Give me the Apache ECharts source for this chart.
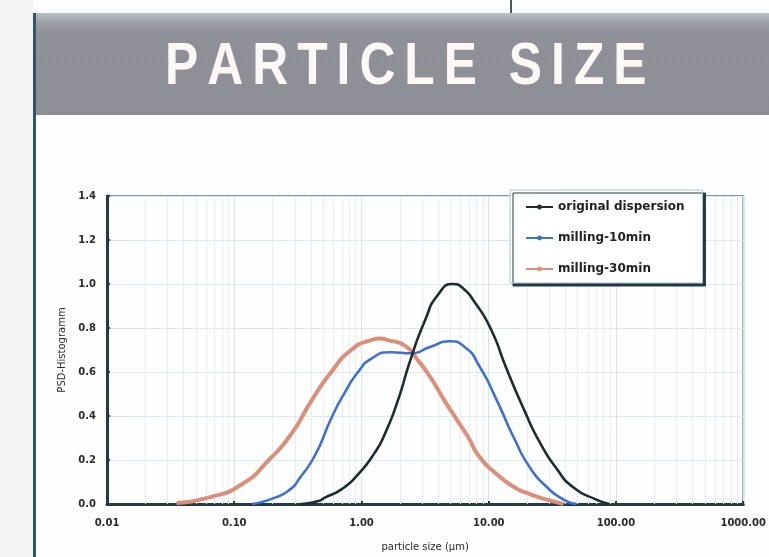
<!DOCTYPE html>
<html>
<head>
<meta charset="utf-8">
<script src="https://cdn.jsdelivr.net/npm/echarts@6/dist/echarts.min.js"></script>
<style>
html,body{margin:0;padding:0;background:#fdfdfd;}
#chart{width:769px;height:557px;}
</style>
</head>
<body>
<div id="chart"></div>
<script>
// ---- data ----
const titleText = 'PARTICLE SIZE';
const seriesNames = ['original dispersion', 'milling-10min', 'milling-30min'];

const originalSize = [0.33, 0.45, 0.52, 0.71, 0.94, 1.26, 1.53, 1.93, 2.44, 3.16, 3.98, 5.25, 6.3, 7.69, 10.3, 13.9, 18.9, 25.2, 34.2, 46.4, 70.1, 88.5];
const originalVal  = [0.0, 0.012, 0.03, 0.07, 0.135, 0.23, 0.32, 0.47, 0.66, 0.835, 0.95, 1.0, 0.98, 0.92, 0.80, 0.61, 0.43, 0.28, 0.16, 0.075, 0.02, 0.0];

const mill10Size = [0.138, 0.212, 0.28, 0.32, 0.434, 0.579, 0.745, 0.94, 1.19, 1.70, 2.44, 3.49, 4.91, 6.43, 8.57, 11.6, 15.8, 21.0, 28.6, 38.7, 49.0];
const mill10Val  = [0.0, 0.03, 0.07, 0.11, 0.225, 0.39, 0.51, 0.60, 0.66, 0.69, 0.685, 0.715, 0.74, 0.715, 0.62, 0.47, 0.30, 0.167, 0.077, 0.02, 0.0];

const mill30Size = [0.0352, 0.0635, 0.115, 0.187, 0.282, 0.405, 0.579, 0.83, 1.19, 1.38, 1.61, 2.19, 2.76, 3.49, 4.49, 5.66, 6.79, 8.57, 11.6, 15.8, 21.0, 28.6, 38.7];
const mill30Val  = [0.005, 0.03, 0.09, 0.20, 0.32, 0.47, 0.60, 0.70, 0.745, 0.752, 0.745, 0.72, 0.655, 0.575, 0.47, 0.38, 0.31, 0.21, 0.135, 0.077, 0.045, 0.02, 0.0];

const xMin = 0.01, xMax = 1000;
const yMin = 0, yMax = 1.4, yStep = 0.2;
const xAxisName = 'particle size (µm)';
const yAxisName = 'PSD-Histogramm';

// minor log grid positions (2..9 x each decade)
const minorGrid = [];
for (let d = -2; d < 3; d++) {
  for (let k = 2; k <= 9; k++) minorGrid.push(+(k * Math.pow(10, d)).toPrecision(3));
}

function pairs(xs, ys) { return xs.map((x, i) => [x, ys[i]]); }

// title laid out letter by letter (letter-spaced banner heading)
const titleFont = 'bold 60px "Liberation Sans", Arial, sans-serif';
const titleScale = 0.83, titleSpacing = 9.0;
const mctx = document.createElement('canvas').getContext('2d');
mctx.font = titleFont;
const titleGraphics = [];
let tx = 165;
for (const ch of titleText) {
  const w = mctx.measureText(ch).width * titleScale;
  if (ch !== ' ') {
    titleGraphics.push({type: 'text', x: tx, y: 67, scaleX: titleScale, originX: 0,
      style: {text: ch, fill: '#fdf8f6', font: titleFont, verticalAlign: 'middle', align: 'left'}});
  }
  tx += w + titleSpacing;
}

const chart = echarts.init(document.getElementById('chart'), null, {renderer: 'canvas'});

const tickFont = {fontFamily: 'DejaVu Sans, sans-serif', fontWeight: 'bold', fontSize: 10, color: '#2b2b2b'};
const nameFont = {fontFamily: 'DejaVu Sans, sans-serif', fontWeight: 'normal', fontSize: 10, color: '#2b2b2b'};

chart.setOption({
  backgroundColor: '#fdfdfd',
  animation: false,
  graphic: [
    {type: 'rect', left: 0, top: 0, shape: {width: 33, height: 557}, style: {fill: '#f4f4f4'}, z: -10},
    {type: 'rect', left: 510, top: 0, shape: {width: 2, height: 15}, style: {fill: '#4a5a60'}},
    {type: 'rect', left: 33, top: 13, shape: {width: 736, height: 102},
      style: {fill: new echarts.graphic.LinearGradient(0, 0, 0, 1, [
        {offset: 0, color: '#b9c3c8'}, {offset: 0.1, color: '#9a9ca3'}, {offset: 0.2, color: '#8f9098'}, {offset: 1, color: '#8d8e96'}])}},
    {type: 'rect', left: 33, top: 13, shape: {width: 3, height: 544}, style: {fill: '#2e5666'}}
  ].concat(titleGraphics),
  legend: {
    data: seriesNames,
    orient: 'vertical',
    left: 510, top: 190,
    padding: [11, 18, 8, 15],
    itemGap: 19,
    itemWidth: 27, itemHeight: 6,
    backgroundColor: '#ffffff',
    borderColor: '#a8c6d8', borderWidth: 1,
    shadowColor: '#203a44', shadowBlur: 0, shadowOffsetX: 3, shadowOffsetY: 3,
    textStyle: Object.assign({}, tickFont, {fontSize: 12, color: '#222'})
  },
  grid: {left: 107, right: 21, top: 196, bottom: 50, show: true, borderColor: '#6f9ebb', borderWidth: 2, backgroundColor: 'transparent'},
  xAxis: {
    type: 'log', logBase: 10, min: xMin, max: xMax,
    name: xAxisName, nameLocation: 'middle', nameGap: 38,
    nameTextStyle: nameFont,
    axisLine: {show: true, onZero: false, lineStyle: {color: '#1f3c48', width: 3}},
    axisTick: {show: true, inside: true, length: 3, lineStyle: {color: '#1f3c48', width: 2}},
    axisLabel: Object.assign({}, tickFont, {margin: 14, formatter: v => v.toFixed(2)}),
    splitLine: {show: true, lineStyle: {color: '#d5e3ec', width: 1}}
  },
  yAxis: {
    type: 'value', min: yMin, max: yMax, interval: yStep,
    name: yAxisName, nameLocation: 'middle', nameGap: 40, nameRotate: 90,
    nameTextStyle: nameFont,
    axisLine: {show: true, lineStyle: {color: '#1f3c48', width: 3}},
    axisTick: {show: true, inside: true, length: 3, lineStyle: {color: '#1f3c48', width: 2}},
    axisLabel: Object.assign({}, tickFont, {margin: 11, formatter: v => v.toFixed(1)}),
    splitLine: {show: true, lineStyle: {color: '#dde8f0', width: 1}}
  },
  series: [
    {
      name: seriesNames[0], type: 'line', smooth: 0.6, showSymbol: false, symbol: 'circle', symbolSize: 4,
      data: pairs(originalSize, originalVal),
      itemStyle: {color: '#1d2c30'},
      lineStyle: {color: '#1d2c30', width: 2.6},
      z: 5,
      markLine: {
        silent: true, symbol: 'none', label: {show: false},
        lineStyle: {color: '#e6eef4', width: 1, type: 'solid'},
        data: minorGrid.map(v => ({xAxis: v})),
        z: 1
      }
    },
    {
      name: seriesNames[1], type: 'line', smooth: 0.6, showSymbol: false, symbol: 'circle', symbolSize: 4,
      data: pairs(mill10Size, mill10Val),
      itemStyle: {color: '#3d6fd6'},
      lineStyle: {color: '#3d6fd6', width: 2.6},
      z: 4
    },
    {
      name: seriesNames[2], type: 'line', smooth: 0.6, showSymbol: false, symbol: 'none',
      data: pairs(mill30Size, mill30Val),
      itemStyle: {color: '#dc8f78'},
      lineStyle: {color: '#dc8f78', width: 4},
      z: 3
    }
  ]
});
</script>
</body>
</html>
